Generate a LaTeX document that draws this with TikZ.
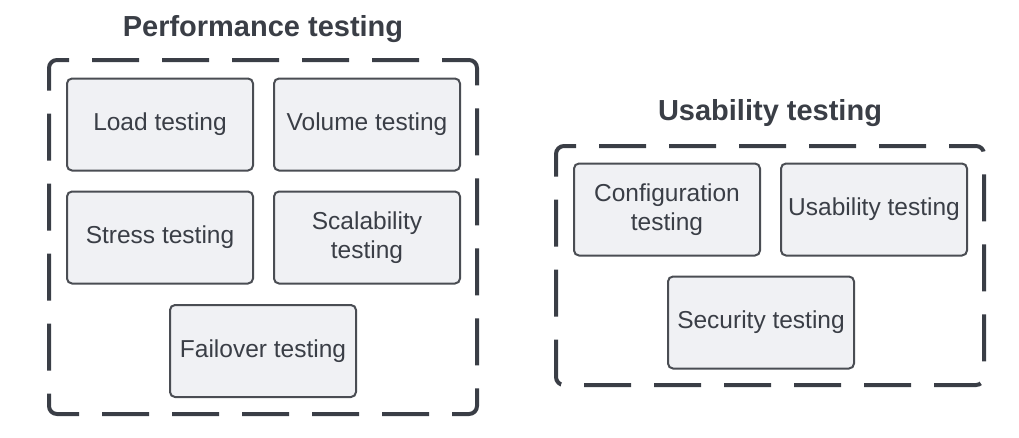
\documentclass[tikz,border=0pt]{standalone}
\usepackage{fontspec}
\setmainfont{Liberation Sans}
\usetikzlibrary{positioning}
\definecolor{inkgrey}{HTML}{3A3E46}
\definecolor{boxfill}{HTML}{F0F1F4}
\definecolor{boxline}{HTML}{4A4D53}
\begin{document}
\begin{tikzpicture}[x=1pt,y=-1pt,
    testbox/.style={draw=boxline,line width=2pt,fill=boxfill,rounded corners=5pt,
        minimum width=186pt,minimum height=92pt,inner sep=2pt,align=center,
        text=inkgrey,font=\fontsize{24.5}{29.5}\selectfont},
    groupframe/.style={draw=inkgrey,line width=4pt,rounded corners=8pt,
        dash pattern=on 47pt off 23pt,dash phase=20pt},
    grouptitle/.style={text=inkgrey,font=\fontsize{29}{34}\selectfont\bfseries,inner sep=0pt}]
            \useasboundingbox (0,0) rectangle (1019,437);
            % performance group
            \node[groupframe,minimum width=428pt,minimum height=354pt](perf)at(263,237){};
            \node[grouptitle]at(263,29)(perftitle){Performance testing};
            \node[testbox]at(160,124.5)(load){Load testing};
            \node[testbox,right=19pt of load](volume){Volume testing};
            \node[testbox,below=19pt of load](stress){Stress testing};
            \node[testbox,below=19pt of volume](scal){Scalability\\testing};
            \node[testbox]at(263,351)(failover){Failover testing};
            % usability group
            \node[groupframe,minimum width=428pt,minimum height=239pt](usab)at(770,265.5){};
            \node[grouptitle]at(770,113)(usabtitle){Usability testing};
            \node[testbox]at(667,209.5)(config){Configuration\\testing};
            \node[testbox,right=19pt of config](usability){Usability testing};
            \node[testbox]at(761,322.5)(security){Security testing};
        \end{tikzpicture}
\end{document}
